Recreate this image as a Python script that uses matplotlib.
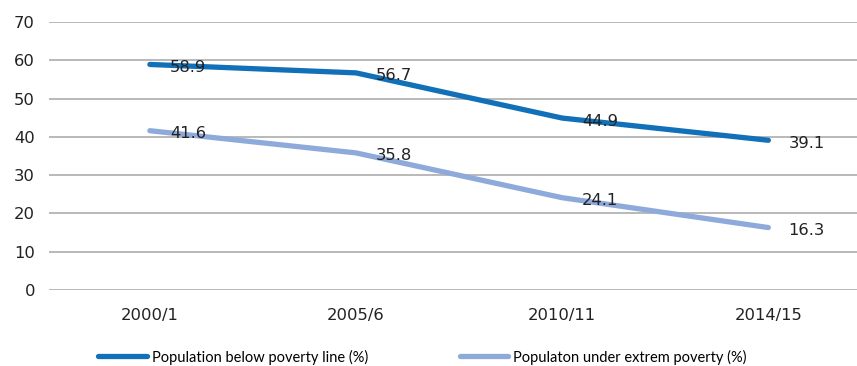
import matplotlib.pyplot as plt
import numpy as np

# Data
periods = ['2000/1', '2005/6', '2010/11', '2014/15']
below_poverty = [58.9, 56.7, 44.9, 39.1]
extreme_poverty = [41.6, 35.8, 24.1, 16.3]

dark_blue = '#1170b8'
light_blue = '#8eaadb'

fig = plt.figure(figsize=(8.57, 3.66), dpi=100)
ax = fig.add_axes([0.057, 0.2077, 0.943, 0.7323])

x = np.arange(len(periods))
ax.plot(x, below_poverty, color=dark_blue, lw=3.8, solid_capstyle='round',
        solid_joinstyle='round', label='Population below poverty line (%)')
ax.plot(x, extreme_poverty, color=light_blue, lw=3.8, solid_capstyle='round',
        solid_joinstyle='round', label='Populaton under extrem poverty (%)')

# value labels to the right of each point
for series in (below_poverty, extreme_poverty):
    for xi, v in zip(x, series):
        ax.annotate(f'{v}', (xi, v), xytext=(20, -3), textcoords='offset pixels',
                    ha='left', va='center', fontsize=11.8, color='#222222')

ax.set_xlim(-0.49, 3.43)
ax.set_ylim(0, 70)
ax.set_yticks(range(0, 71, 10))
ax.set_xticks(x)
ax.set_xticklabels(periods)
ax.grid(axis='y', color='#a6a6a6', lw=1.1)
ax.set_axisbelow(True)
for s in ax.spines.values():
    s.set_visible(False)
ax.tick_params(length=0, labelsize=11.8, colors='#222222')
ax.tick_params(axis='x', pad=13)
ax.tick_params(axis='y', pad=10)

fig.legend(loc='lower center', bbox_to_anchor=(0.493, -0.032), ncol=2, frameon=False,
           prop={'family': 'Lato', 'size': 10.5}, handlelength=3.3, columnspacing=6.3,
           handletextpad=0.35)

fig.savefig('out.png', dpi=100)
